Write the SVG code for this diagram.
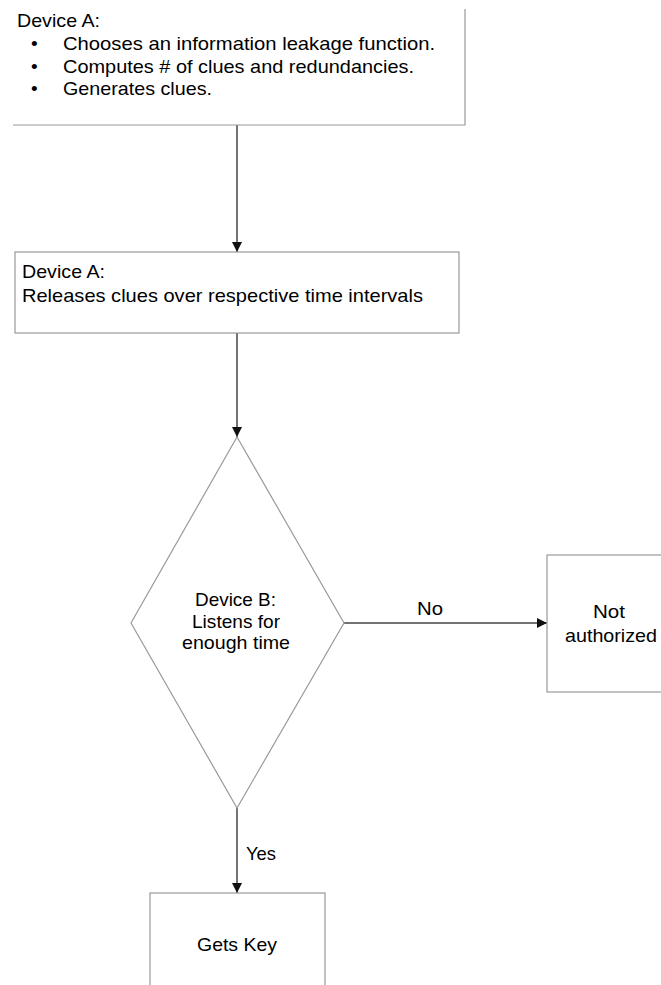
<svg xmlns="http://www.w3.org/2000/svg" width="661" height="985" viewBox="0 0 661 985">
<defs>
<style>
.box{fill:#fff;stroke:#9a9a9a;stroke-width:1.2}
.t{font-family:"Liberation Sans",Arial,Helvetica,sans-serif;font-size:19px;fill:#000}
.edge{stroke:#444;stroke-width:1.5;fill:none}
</style>
<marker id="ah" viewBox="0 0 10 10" refX="10" refY="5" markerWidth="10" markerHeight="10" markerUnits="userSpaceOnUse" orient="auto">
<path d="M0,0 L10,5 L0,10 z" fill="#111"/>
</marker>
</defs>
<rect width="661" height="985" fill="#fff"/>
<g id="connectors">
<line class="edge" x1="237" y1="125" x2="237" y2="252" marker-end="url(#ah)"/>
<line class="edge" x1="237" y1="333" x2="237" y2="437" marker-end="url(#ah)"/>
<line class="edge" x1="344" y1="623" x2="547" y2="623" marker-end="url(#ah)"/>
<line class="edge" x1="237" y1="808" x2="237" y2="893" marker-end="url(#ah)"/>
<text class="t" x="417" y="615" textLength="26" lengthAdjust="spacingAndGlyphs">No</text>
<text class="t" x="246" y="860" textLength="30" lengthAdjust="spacingAndGlyphs">Yes</text>
</g>
<g id="node-a1">
<path class="box" d="M465,9 V125 H13"/>
<text class="t" x="17" y="27" textLength="83" lengthAdjust="spacingAndGlyphs">Device A:</text>
<text class="t" x="31" y="50">•</text>
<text class="t" x="63" y="50" textLength="372" lengthAdjust="spacingAndGlyphs">Chooses an information leakage function.</text>
<text class="t" x="31" y="73">•</text>
<text class="t" x="63" y="73" textLength="351" lengthAdjust="spacingAndGlyphs">Computes # of clues and redundancies.</text>
<text class="t" x="31" y="95">•</text>
<text class="t" x="63" y="95" textLength="149" lengthAdjust="spacingAndGlyphs">Generates clues.</text>
</g>
<g id="node-a2">
<rect class="box" x="15" y="252" width="444" height="81"/>
<text class="t" x="22" y="278" textLength="83" lengthAdjust="spacingAndGlyphs">Device A:</text>
<text class="t" x="22" y="302" textLength="401" lengthAdjust="spacingAndGlyphs">Releases clues over respective time intervals</text>
</g>
<g id="node-b">
<polygon class="box" points="237,437 344,623 237,808 131,623"/>
<text class="t" x="195" y="606" textLength="81" lengthAdjust="spacingAndGlyphs">Device B:</text>
<text class="t" x="192" y="628" textLength="88" lengthAdjust="spacingAndGlyphs">Listens for</text>
<text class="t" x="182" y="649" textLength="108" lengthAdjust="spacingAndGlyphs">enough time</text>
</g>
<g id="node-no">
<rect class="box" x="547" y="555" width="130" height="137"/>
<text class="t" x="593" y="618" textLength="32" lengthAdjust="spacingAndGlyphs">Not</text>
<text class="t" x="565" y="642" textLength="92" lengthAdjust="spacingAndGlyphs">authorized</text>
</g>
<g id="node-key">
<rect class="box" x="150" y="893" width="175" height="110"/>
<text class="t" x="197" y="951" textLength="80" lengthAdjust="spacingAndGlyphs">Gets Key</text>
</g>
</svg>
